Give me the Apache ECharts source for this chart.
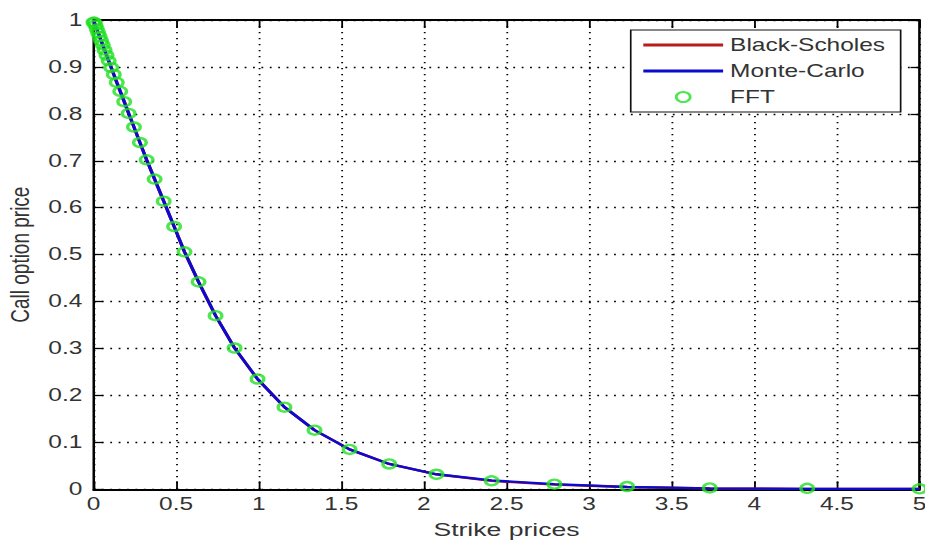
<!DOCTYPE html>
<html>
<head>
<meta charset="utf-8">
<script src="https://cdn.jsdelivr.net/npm/echarts@6/dist/echarts.min.js"></script>
<style>
html,body{margin:0;padding:0;background:#fff;overflow:hidden}
#wrap{width:925px;height:540px;overflow:hidden}
#c{width:661px;height:540px;transform:scaleX(1.39939);transform-origin:0 0}
</style>
</head>
<body>
<div id="wrap"><div id="c"></div></div>
<script>
const strikes = [0.000,0.005,0.012,0.020,0.028,0.037,0.046,0.056,0.067,0.079,0.092,0.107,0.123,0.141,0.162,0.186,0.213,0.245,0.281,0.322,0.370,0.425,0.488,0.551,0.636,0.739,0.854,0.993,1.156,1.338,1.550,1.790,2.076,2.410,2.790,3.230,3.730,4.320,5.000];
const bsPrices = [1.000,0.995,0.989,0.981,0.973,0.965,0.956,0.947,0.936,0.925,0.913,0.899,0.884,0.867,0.848,0.826,0.801,0.772,0.739,0.702,0.661,0.614,0.560,0.506,0.442,0.370,0.301,0.235,0.175,0.126,0.085,0.054,0.032,0.018,0.010,0.005,0.002,0.001,0.0005];
const mcPrices = [1.000,0.995,0.989,0.981,0.973,0.965,0.956,0.947,0.936,0.925,0.913,0.899,0.884,0.867,0.848,0.826,0.801,0.772,0.739,0.702,0.661,0.614,0.560,0.506,0.442,0.370,0.301,0.235,0.175,0.126,0.085,0.054,0.032,0.019,0.011,0.005,0.002,0.001,0.0005];
const fftPrices = [0.995,0.995,0.989,0.981,0.973,0.965,0.956,0.947,0.936,0.925,0.913,0.899,0.884,0.867,0.848,0.826,0.801,0.772,0.739,0.702,0.661,0.614,0.560,0.506,0.442,0.370,0.301,0.235,0.175,0.126,0.085,0.054,0.032,0.018,0.011,0.006,0.003,0.002,0.001];
const xTicks = ['0','0.5','1','1.5','2','2.5','3','3.5','4','4.5','5'];
const yTicks = ['0','0.1','0.2','0.3','0.4','0.5','0.6','0.7','0.8','0.9','1'];
const seriesNames = ['Black-Scholes','Monte-Carlo','FFT'];
const xTitle = 'Strike prices';
const yTitle = 'Call option price';

const pair = (xs, ys) => xs.map((x, i) => [x, ys[i]]);
const font = '"Liberation Sans", Arial, sans-serif';
const chart = echarts.init(document.getElementById('c'), null, {renderer: 'svg'});
const fmtX = v => { const s = String(Math.round(v * 10) / 10); return xTicks.includes(s) ? s : ''; };
const fmtY = v => { const s = String(Math.round(v * 10) / 10); return yTicks.includes(s) ? s : ''; };
const axisLine = {show: true, onZero: false, lineStyle: {color: '#000', width: 1.8}};
const dotted = {show: true, lineStyle: {color: '#000', type: [1.3, 4.7], width: 1.3}};
const lineIcon = 'path://M0,3.6h57v2.8h-57z M28,0v10';
const labelStyle = {fontFamily: font, fontSize: 17.5, color: '#333'};
chart.setOption({
  animation: false,
  backgroundColor: '#fff',
  grid: {left: 66.8, right: 3.9, top: 20, bottom: 50.7, containLabel: false, outerBoundsMode: 'none'},
  legend: {
    right: 17.4, top: 30, orient: 'vertical',
    padding: [6, 11, 6, 9], itemGap: 8,
    borderColor: '#111', borderWidth: 1.2, backgroundColor: '#fff',
    itemWidth: 57, itemHeight: 10,
    textStyle: {fontFamily: font, fontSize: 17.5, color: '#333', lineHeight: 18},
    data: [
      {name: seriesNames[0], icon: lineIcon, itemStyle: {borderWidth: 0, color: '#b81c1c'}},
      {name: seriesNames[1], icon: lineIcon, itemStyle: {borderWidth: 0}},
      {name: seriesNames[2], icon: 'circle'}
    ]
  },
  xAxis: [
    {type: 'value', min: 0, max: 5, interval: 0.5, position: 'bottom',
     name: xTitle, nameLocation: 'middle', nameGap: 31,
     nameTextStyle: {fontFamily: font, fontSize: 19, color: '#333'},
     axisLine: axisLine,
     axisTick: {show: true, inside: true, length: 8, lineStyle: {color: '#000', width: 1.3}},
     axisLabel: Object.assign({margin: 6, formatter: fmtX}, labelStyle),
     splitLine: dotted},
    {type: 'value', min: 0, max: 5, interval: 0.5, position: 'top',
     axisLine: axisLine,
     axisTick: {show: true, inside: true, length: 8, lineStyle: {color: '#000', width: 1.3}},
     axisLabel: {show: false}, splitLine: {show: false}}
  ],
  yAxis: [
    {type: 'value', min: 0, max: 1, interval: 0.1, position: 'left',
     name: yTitle, nameLocation: 'middle', nameGap: 42, nameRotate: 90,
     nameTextStyle: {fontFamily: font, fontSize: 19, color: '#333'},
     axisLine: axisLine,
     axisTick: {show: true, inside: true, length: 6.5, lineStyle: {color: '#000', width: 1.3}},
     axisLabel: Object.assign({margin: 8, formatter: fmtY}, labelStyle),
     splitLine: dotted},
    {type: 'value', min: 0, max: 1, interval: 0.1, position: 'right',
     axisLine: axisLine,
     axisTick: {show: true, inside: true, length: 6.5, lineStyle: {color: '#000', width: 1.3}},
     axisLabel: {show: false}, splitLine: {show: false}}
  ],
  series: [
    {name: seriesNames[0], type: 'line', data: pair(strikes, bsPrices), symbol: 'none',
     lineStyle: {color: '#cc1111', width: 2.4}, itemStyle: {color: '#cc1111'}, z: 2},
    {name: seriesNames[1], type: 'line', data: pair(strikes, mcPrices), symbol: 'none',
     lineStyle: {color: '#0b0bd0', width: 2.4}, itemStyle: {color: '#0b0bd0'}, z: 3},
    {name: seriesNames[2], type: 'scatter', data: pair(strikes, fftPrices),
     symbol: 'circle', symbolSize: 9, symbolKeepAspect: true,
     itemStyle: {color: 'rgba(0,0,0,0)', borderColor: '#22e022', borderWidth: 2.4}, z: 4}
  ]
});
</script>
</body>
</html>
